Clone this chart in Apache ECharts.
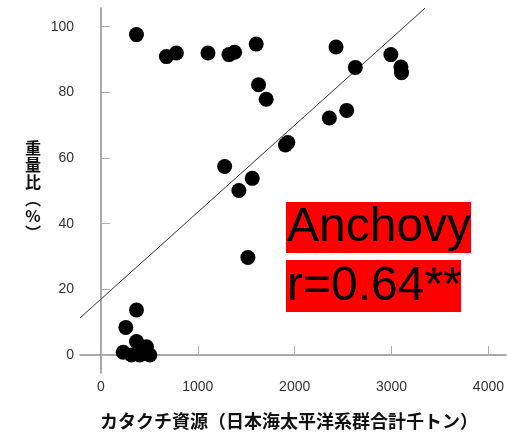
<!DOCTYPE html>
<html>
<head>
<meta charset="utf-8">
<script src="https://cdn.jsdelivr.net/npm/echarts@6/dist/echarts.min.js"></script>
<style>html,body{margin:0;padding:0;background:#fff;}#c{width:507px;height:436px;}</style>
</head>
<body>
<div id="c"></div>
<script>
// Data
const xValues = [367, 676, 779, 1105, 1322, 1380, 1603, 1627, 1706, 2427, 2626, 2993, 3097, 3103, 2358, 2537, 1905, 1929, 1562, 1277, 1424, 1517, 367, 257, 367, 470, 230, 316, 401, 505];
const yValues = [97.6, 90.9, 92.0, 92.0, 91.5, 92.2, 94.7, 82.3, 77.9, 93.8, 87.6, 91.5, 87.7, 86.0, 72.2, 74.5, 64.0, 64.7, 53.8, 57.4, 50.1, 29.7, 13.7, 8.4, 4.1, 2.5, 0.8, 0, 0, 0];
const xTicks = [0, 1000, 2000, 3000, 4000];
const yTicks = [0, 20, 40, 60, 80, 100];
const regSlope = 0.0265;
const regIntercept = 17.0;
const xTitle = 'カタクチ資源（日本海太平洋系群合計千トン）';
const yTitle = '重\n量\n比\n︵\n%\n︶';
const label1 = 'Anchovy';
const label2 = 'r=0.64**';

const xMin = -216, xMax = 4181, yMin = -5.5, yMax = 105.7;
const points = xValues.map((x, i) => [x, yValues[i]]);
const xEnd = (yMax - regIntercept) / regSlope;
const regLine = [[xMin, regIntercept + regSlope * xMin], [xEnd, regIntercept + regSlope * xEnd]];

const chart = echarts.init(document.getElementById('c'), null, {renderer: 'canvas'});
const axisColor = '#8c8c8c';
chart.setOption({
  animation: false,
  grid: {left: 80, right: 0, top: 8, bottom: 63, containLabel: false},
  xAxis: {
    type: 'value', min: xMin, max: xMax,
    splitLine: {show: false},
    axisLine: {lineStyle: {color: axisColor, width: 1.5}},
    axisTick: {inside: true, length: 9, lineStyle: {color: '#b0b0b0'}, customValues: xTicks},
    axisLabel: {customValues: xTicks, formatter: v => String(v), color: '#333', fontSize: 14, fontFamily: 'Liberation Sans', margin: 7},
    name: xTitle, nameLocation: 'middle', nameGap: 39,
    nameTextStyle: {fontSize: 18, fontWeight: 'bold', color: '#111', fontFamily: 'Noto Sans CJK JP', padding: [0, 8, 0, 0]}
  },
  yAxis: {
    type: 'value', min: yMin, max: yMax,
    splitLine: {show: false},
    axisLine: {show: true, lineStyle: {color: axisColor, width: 1.5}},
    axisTick: {show: true, inside: true, length: 9, lineStyle: {color: '#b0b0b0'}, customValues: yTicks},
    axisLabel: {customValues: yTicks, formatter: v => String(v), color: '#333', fontSize: 14, fontFamily: 'Liberation Sans', margin: 6},
    name: yTitle, nameLocation: 'middle', nameGap: 47, nameRotate: 0,
    nameTextStyle: {fontSize: 16, lineHeight: 17, fontWeight: 'bold', color: '#111', fontFamily: 'Noto Sans CJK JP', align: 'center', padding: [0, 0, 10, 0]}
  },
  series: [
    {type: 'line', data: regLine, symbol: 'none', lineStyle: {color: '#333', width: 1}, silent: true, z: 1},
    {type: 'scatter', data: points, symbol: 'circle', symbolSize: 15, itemStyle: {color: '#000', opacity: 1}, z: 2}
  ],
  graphic: [
    {type: 'rect', shape: {x: 286, y: 202, width: 185, height: 51}, style: {fill: '#ff0000'}, z: 10},
    {type: 'rect', shape: {x: 286, y: 260, width: 175, height: 52}, style: {fill: '#ff0000'}, z: 10},
    {type: 'text', x: 287, y: 204, style: {text: label1, font: '48px "Liberation Sans"', fill: '#000', verticalAlign: 'top'}, z: 11},
    {type: 'text', x: 287, y: 263, style: {text: label2, font: '48px "Liberation Sans"', fill: '#000', verticalAlign: 'top'}, z: 11}
  ]
});
</script>
</body>
</html>
